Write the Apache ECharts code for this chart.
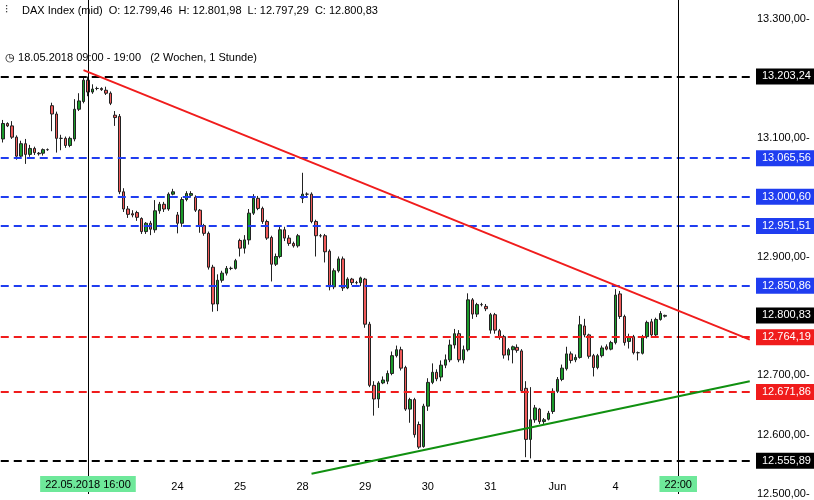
<!DOCTYPE html>
<html>
<head>
<meta charset="utf-8">
<script src="https://cdn.jsdelivr.net/npm/echarts@6/dist/echarts.min.js"></script>
<style>html,body{margin:0;padding:0;background:#fff}#chart{width:814px;height:500px}</style>
</head>
<body>
<div id="chart"></div>
<script>
// DAX hourly candles, [open, close, low, high]
const candles = [
  [13098,13124,13092,13130],[13124,13120,13118,13126],[13120,13101,13098,13128],[13101,13069,13063,13104],
  [13069,13090,13066,13095],[13090,13072,13056,13098],[13072,13082,13068,13088],[13082,13075,13071,13085],
  [13074,13073,13070,13076],[13074,13080,13070,13082],[13080,13080,13078,13082],[13154,13140,13111,13159],
  [13140,13099,13075,13144],[13099,13099,13079,13105],[13099,13087,13083,13102],[13087,13099,13084,13102],
  [13098,13148,13094,13165],[13148,13162,13145,13175],[13161,13197,13158,13203],[13197,13177,13170,13203],
  [13177,13182,13174,13190],[13183,13183,13180,13186],[13183,13181,13179,13185],[13180,13175,13172,13186],
  [13175,13158,13155,13178],[13138,13134,13120,13145],[13136,13009,13005,13140],[13009,12980,12975,13015],
  [12980,12971,12965,12985],[12972,12970,12966,12978],[12974,12966,12960,12977],[12964,12942,12938,12966],
  [12942,12956,12938,12958],[12956,12946,12936,12960],[12945,12977,12940,12995],[12977,12988,12972,12992],
  [12988,12980,12975,12992],[12980,13005,12977,13008],[13005,13009,13003,13014],[12970,12956,12939,12975],
  [12956,12996,12950,13000],[12996,13006,12993,13010],[13003,13006,13000,13010],[13000,12978,12975,13003],
  [12978,12952,12940,12980],[12952,12939,12935,12955],[12939,12882,12878,12942],[12882,12820,12807,12886],
  [12820,12860,12808,12870],[12860,12872,12856,12876],[12872,12880,12868,12884],[12880,12880,12877,12883],
  [12880,12893,12878,12896],[12927,12914,12900,12930],[12914,12928,12905,12936],[12928,12973,12920,12980],
  [12973,12998,12970,13005],[12998,12981,12978,13002],[12981,12959,12955,12984],[12959,12931,12928,12962],
  [12932,12887,12858,12935],[12887,12900,12884,12905],[12900,12945,12897,12952],[12945,12931,12926,12950],
  [12931,12922,12918,12936],[12922,12918,12915,12925],[12918,12935,12915,12938],[12998,13005,12990,13041],
  [13005,13005,13002,13008],[13005,12959,12956,13008],[12959,12935,12900,12962],[12935,12935,12932,12938],
  [12935,12908,12890,12938],[12909,12849,12843,12912],[12849,12876,12845,12880],[12876,12896,12873,12900],
  [12896,12847,12842,12900],[12847,12862,12845,12865],[12862,12856,12852,12864],[12856,12856,12853,12859],
  [12856,12864,12850,12866],[12862,12786,12780,12864],[12786,12683,12680,12790],[12683,12660,12632,12690],
  [12660,12687,12645,12690],[12687,12692,12685,12698],[12690,12703,12685,12708],[12703,12733,12700,12740],
  [12733,12743,12730,12750],[12743,12712,12708,12748],[12713,12643,12640,12716],[12643,12659,12620,12662],
  [12659,12600,12595,12662],[12617,12579,12576,12622],[12580,12648,12578,12652],[12648,12688,12640,12695],
  [12688,12705,12685,12720],[12705,12694,12690,12710],[12697,12717,12690,12725],[12717,12726,12712,12735],
  [12726,12751,12722,12760],[12751,12770,12745,12778],[12770,12726,12722,12776],[12726,12743,12720,12750],
  [12743,12827,12740,12838],[12827,12803,12795,12830],[12803,12819,12798,12822],[12819,12819,12816,12822],
  [12816,12812,12808,12820],[12776,12802,12770,12805],[12802,12776,12770,12805],[12775,12765,12760,12778],
  [12765,12734,12728,12768],[12734,12743,12725,12746],[12743,12748,12720,12750],[12747,12742,12738,12752],
  [12741,12674,12672,12744],[12678,12592,12562,12690],[12592,12625,12560,12680],[12625,12645,12620,12650],
  [12643,12622,12618,12645],[12622,12625,12618,12628],[12626,12636,12624,12640],[12639,12673,12635,12678],
  [12673,12693,12670,12697],[12693,12712,12690,12718],[12711,12736,12708,12748],[12736,12725,12720,12740],
  [12726,12730,12722,12735],[12730,12785,12728,12800],[12783,12768,12764,12795],[12768,12732,12728,12770],
  [12733,12713,12698,12736],[12713,12733,12710,12736],[12733,12746,12730,12750],[12748,12744,12742,12752],
  [12744,12755,12742,12758],[12755,12835,12752,12845],[12837,12799,12795,12842],[12799,12755,12750,12802],
  [12757,12765,12745,12770],[12765,12738,12735,12768],[12738,12738,12725,12740],[12737,12765,12735,12768],
  [12765,12789,12762,12792],[12790,12768,12765,12795],[12768,12794,12765,12797],[12794,12804,12792,12808],
  [12799.46,12800.83,12797.29,12801.98]
];

const slotCount = 168;
const xLabels = [[19,'22.05.2018 16:00',true],[39,'24'],[53,'25'],[67,'28'],[81,'29'],
                 [95,'30'],[109,'31'],[124,'Jun'],[137,'4'],[151,'22:00',true]];
const markers = [19, 151];

// horizontal levels: value, colour
const levels = [
  [13203.24,'#000'],[13065.56,'#1f3df0'],[13000.60,'#1f3df0'],[12951.51,'#1f3df0'],
  [12850.86,'#1f3df0'],[12764.19,'#f01c1c'],[12671.86,'#f01c1c'],[12555.89,'#000']
];
const lastPrice = 12800.83;

const resistance = [[18,13214],[167,12760]];
const support = [[69,12534],[167,12690]];

const fmt = v => {
  const [i, d] = v.toFixed(2).split('.');
  return i.replace(/\B(?=(\d{3})+(?!\d))/g, '.') + ',' + d;
};

const categories = new Array(slotCount).fill('').map((_, i) => 'c' + i);
const labelMap = {};
xLabels.forEach(l => { labelMap[l[0]] = l; });

const tag = (bg) => ({
  show: true, position: 'end', distance: 4, formatter: p => fmt(p.value),
  backgroundColor: bg, color: '#fff', padding: [3, 5, 2, 6], fontSize: 11,
  fontFamily: 'Liberation Sans'
});

const lines = levels.map(l => ({
  yAxis: l[0],
  lineStyle: { color: l[1], type: [8, 5], width: 2 },
  label: tag(l[1])
}));
lines.push({ yAxis: lastPrice, lineStyle: { color: 'rgba(0,0,0,0)', width: 0 }, label: tag('#000') });
markers.forEach(m => lines.push({
  xAxis: m, lineStyle: { color: '#000', type: 'solid', width: 1 }, label: { show: false }
}));
[[resistance, '#f01c1c'], [support, '#109010']].forEach(([pts, c]) => lines.push([
  { coord: pts[0], lineStyle: { color: c, type: 'solid', width: 2 }, label: { show: false } },
  { coord: pts[1] }
]));

const chart = echarts.init(document.getElementById('chart'));
chart.setOption({
  animation: false,
  textStyle: { fontFamily: 'Liberation Sans' },
  graphic: [
    { type: 'text', left: 5, top: 4, style: { text: '⫶', fontSize: 12, fill: '#000' } },
    { type: 'text', left: 22, top: 5, style: {
      text: 'DAX Index (mid)  O: 12.799,46  H: 12.801,98  L: 12.797,29  C: 12.800,83',
      fontSize: 11, fill: '#000', fontFamily: 'Liberation Sans' } },
    { type: 'text', left: 5, top: 52, style: {
      text: '◷ 18.05.2018 09:00 - 19:00   (2 Wochen, 1 Stunde)',
      fontSize: 11, fill: '#000', fontFamily: 'Liberation Sans' } }
  ],
  grid: { left: 0, right: 62, top: 0, bottom: 6 },
  xAxis: {
    type: 'category', data: categories, boundaryGap: true, z: 10,
    axisLine: { show: false }, axisTick: { show: false }, splitLine: { show: false },
    axisLabel: {
      inside: true, margin: 2, interval: 0, fontSize: 11, color: '#000',
      formatter: (v, i) => {
        const l = labelMap[i];
        if (!l) return '';
        return l[2] ? '{hl|' + l[1] + '}' : l[1];
      },
      rich: { hl: { backgroundColor: '#6ee89a', padding: [3, 5, 2, 5], fontSize: 11, color: '#000' } }
    }
  },
  yAxis: {
    type: 'value', position: 'right', min: 12500, max: 13332, interval: 100,
    axisLine: { show: false }, axisTick: { show: false }, splitLine: { show: false },
    axisLabel: { margin: 5, fontSize: 11, color: '#000', showMaxLabel: false,
                 formatter: v => fmt(v) + '-' }
  },
  series: [{
    type: 'candlestick',
    data: candles,
    barWidth: 3,
    itemStyle: { color: '#1a9a2a', color0: '#f05a5a', borderColor: '#222', borderColor0: '#222', borderWidth: 1 },
    markLine: { symbol: 'none', silent: true, animation: false, data: lines }
  }]
});
</script>
</body>
</html>
